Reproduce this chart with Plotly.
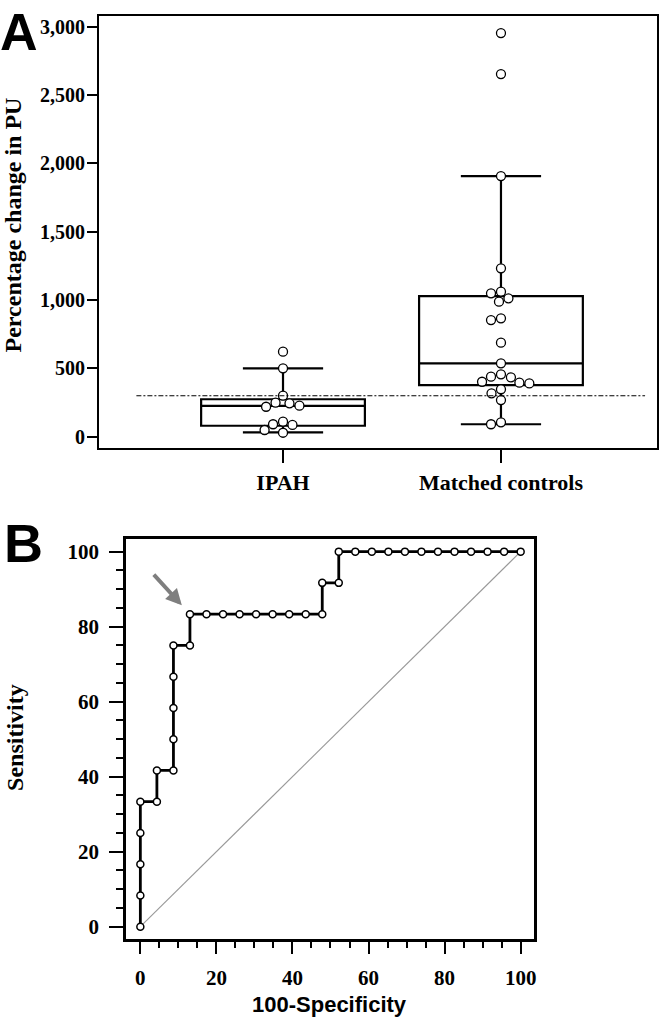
import plotly.graph_objects as go

# ---------------- Data ----------------
categories = ["IPAH", "Matched controls"]
ipah_values = [622, 500, 300, 249, 244, 227, 219, 110, 91, 86, 49, 29]
control_values = [2953, 2653, 1907, 1232, 1061, 1049, 1012, 988, 866, 853,
                  688, 537, 456, 439, 434, 402, 395, 390, 347, 317, 268, 105, 91]
box_q1 = [80, 378]
box_median = [225, 537]
box_q3 = [274, 1029]
box_lower = [32, 91]
box_upper = [500, 1907]
cutoff_value = 300
y_ticks_a = [0, 500, 1000, 1500, 2000, 2500, 3000]

roc_fpr = [0, 0, 0, 0, 0, 4.35, 4.35, 8.70, 8.70, 8.70, 8.70, 8.70,
           13.04, 13.04, 17.39, 21.74, 26.09, 30.43, 34.78, 39.13, 43.48,
           47.83, 47.83, 52.17, 52.17, 56.52, 60.87, 65.22, 69.57, 73.91,
           78.26, 82.61, 86.96, 91.30, 95.65, 100]
roc_tpr = [0, 8.33, 16.67, 25, 33.33, 33.33, 41.67, 41.67, 50, 58.33, 66.67, 75,
           75, 83.33, 83.33, 83.33, 83.33, 83.33, 83.33, 83.33, 83.33,
           83.33, 91.67, 91.67, 100, 100, 100, 100, 100, 100,
           100, 100, 100, 100, 100, 100]
cutoff_index = 13
chance_line = [0, 100]
roc_ticks = [0, 20, 40, 60, 80, 100]

# ---------------- Geometry ----------------
W, H = 666, 1024
A_XRANGE = [-0.844, 1.716]
A_YRANGE = [-82.7, 3080]
A_XDOM = [99.5 / W, 660 / W]
A_YDOM = [1 - 448 / H, 1 - 15.7 / H]
A_PX_X = (A_XDOM[1] - A_XDOM[0]) * W / (A_XRANGE[1] - A_XRANGE[0])
A_PX_Y = (A_YDOM[1] - A_YDOM[0]) * H / (A_YRANGE[1] - A_YRANGE[0])

B_XRANGE = [-3.74, 103.4]
B_YRANGE = [-3.36, 103.5]
B_XDOM = [126.7 / W, 536 / W]
B_YDOM = [1 - 939.3 / H, 1 - 538.5 / H]

SERIF = "Liberation Serif"
SANS = "Liberation Sans"


def swarm_offsets(values, px_per_unit, diameter):
    """Beeswarm offsets (in px) so that markers do not overlap."""
    order = sorted(range(len(values)), key=lambda i: -values[i])
    cands = sorted({s * k * 0.5 for k in range(0, 100) for s in (1, -1)},
                   key=lambda c: (abs(c), c))
    placed, offs = [], [0.0] * len(values)
    for i in order:
        y = values[i] * px_per_unit
        chosen = 0.0
        for c in cands:
            if all((c - px) ** 2 + (y - py) ** 2 >= diameter ** 2 for px, py in placed):
                chosen = c
                break
        placed.append((chosen, y))
        offs[i] = chosen
    return offs


fig = go.Figure()

# ---------------- Panel A ----------------
groups = [ipah_values, control_values]
for i, cat in enumerate(categories):
    fig.add_trace(go.Box(
        x=[i], q1=[box_q1[i]], median=[box_median[i]], q3=[box_q3[i]],
        lowerfence=[box_lower[i]], upperfence=[box_upper[i]],
        width=164.5 / A_PX_X, whiskerwidth=0.49, boxpoints=False,
        fillcolor="white", line=dict(color="black", width=2.2),
        xaxis="x", yaxis="y", showlegend=False, hoverinfo="skip", name=cat))

for i, vals in enumerate(groups):
    offs = swarm_offsets(vals, A_PX_Y, 10.0)
    fig.add_trace(go.Scatter(
        x=[i + o / A_PX_X for o in offs], y=vals, mode="markers",
        marker=dict(size=9, color="white", line=dict(color="black", width=1.3)),
        xaxis="x", yaxis="y", showlegend=False, hoverinfo="skip"))

fig.add_shape(type="line", xref="paper", yref="y",
              x0=137 / W, x1=648 / W, y0=cutoff_value, y1=cutoff_value,
              line=dict(color="black", width=1.1, dash="5px,2px,2px,2px"))

# ---------------- Panel B ----------------
fig.add_trace(go.Scatter(
    x=chance_line, y=chance_line, mode="lines",
    line=dict(color="#999999", width=1.1),
    xaxis="x2", yaxis="y2", showlegend=False, hoverinfo="skip"))
fig.add_trace(go.Scatter(
    x=roc_fpr, y=roc_tpr, mode="lines+markers",
    line=dict(color="black", width=2.8),
    marker=dict(size=7, color="white", line=dict(color="black", width=1.5)),
    xaxis="x2", yaxis="y2", showlegend=False, hoverinfo="skip"))

fig.add_annotation(
    x=roc_fpr[cutoff_index], y=roc_tpr[cutoff_index], xref="x2", yref="y2",
    ax=-37.5, ay=-41, axref="pixel", ayref="pixel", text="",
    showarrow=True, arrowhead=2, arrowsize=0.8, arrowwidth=4,
    arrowcolor="#7f7f7f", standoff=12)

# ---------------- Axes ----------------
tickfont_serif = dict(family=SERIF, size=21, color="black", weight="bold")
common_line = dict(showline=True, linecolor="black", mirror=True,
                   showgrid=False, zeroline=False, ticks="outside",
                   tickcolor="black")

fig.update_layout(
    width=W, height=H, margin=dict(l=0, r=0, t=0, b=0),
    paper_bgcolor="white", plot_bgcolor="white",
    xaxis=dict(domain=A_XDOM, range=A_XRANGE, anchor="y",
               tickvals=[0, 1], ticktext=categories, ticklen=13, tickwidth=2,
               linewidth=2.2, ticklabelstandoff=0,
               tickfont=dict(family=SERIF, size=22, color="black", weight="bold"),
               **common_line),
    yaxis=dict(domain=A_YDOM, range=A_YRANGE, anchor="x",
               tickvals=y_ticks_a, tickformat=",", ticklen=10, tickwidth=2,
               linewidth=2.2, ticklabelstandoff=-2,
               tickfont=dict(family=SERIF, size=20, color="black", weight="bold"),
               **common_line),
    xaxis2=dict(domain=B_XDOM, range=B_XRANGE, anchor="y2",
                tickvals=roc_ticks, ticklen=12, tickwidth=2.2,
                linewidth=2.7, ticklabelstandoff=6, tickfont=tickfont_serif,
                minor=dict(dtick=5, ticklen=6, tickwidth=1.6, ticks="outside",
                           tickcolor="black", showgrid=False),
                **common_line),
    yaxis2=dict(domain=B_YDOM, range=B_YRANGE, anchor="x2",
                tickvals=roc_ticks, ticklen=14, tickwidth=2.2,
                linewidth=2.7, ticklabelstandoff=6, tickfont=tickfont_serif,
                minor=dict(dtick=5, ticklen=7, tickwidth=1.6, ticks="outside",
                           tickcolor="black", showgrid=False),
                **common_line),
)

# ---------------- Titles and panel letters ----------------
fig.add_annotation(text="Percentage change in PU", textangle=-90,
                   xref="paper", yref="paper", x=13.5 / W, y=1 - 225 / H,
                   xanchor="center", yanchor="middle", showarrow=False,
                   font=dict(family=SERIF, size=24, color="black", weight="bold"))
fig.add_annotation(text="Sensitivity", textangle=-90,
                   xref="paper", yref="paper", x=15 / W, y=1 - 737 / H,
                   xanchor="center", yanchor="middle", showarrow=False,
                   font=dict(family=SERIF, size=24, color="black", weight="bold"))
fig.add_annotation(text="100-Specificity",
                   xref="paper", yref="paper", x=331 / W, y=1 - 1004 / H,
                   xanchor="center", yanchor="middle", showarrow=False,
                   font=dict(family=SANS, size=22, color="black", weight="bold"))
fig.add_annotation(text="A", xref="paper", yref="paper", x=19 / W, y=1 - 32 / H,
                   xanchor="center", yanchor="middle", showarrow=False,
                   font=dict(family=SANS, size=52, color="black", weight="bold"))
fig.add_annotation(text="B", xref="paper", yref="paper", x=24 / W, y=1 - 543 / H,
                   xanchor="center", yanchor="middle", showarrow=False,
                   font=dict(family=SANS, size=54, color="black", weight="bold"))

fig.write_html("out.html", config={"displayModeBar": False},
               post_script="document.body.style.margin='0';"
                           "document.body.style.padding='0';")
